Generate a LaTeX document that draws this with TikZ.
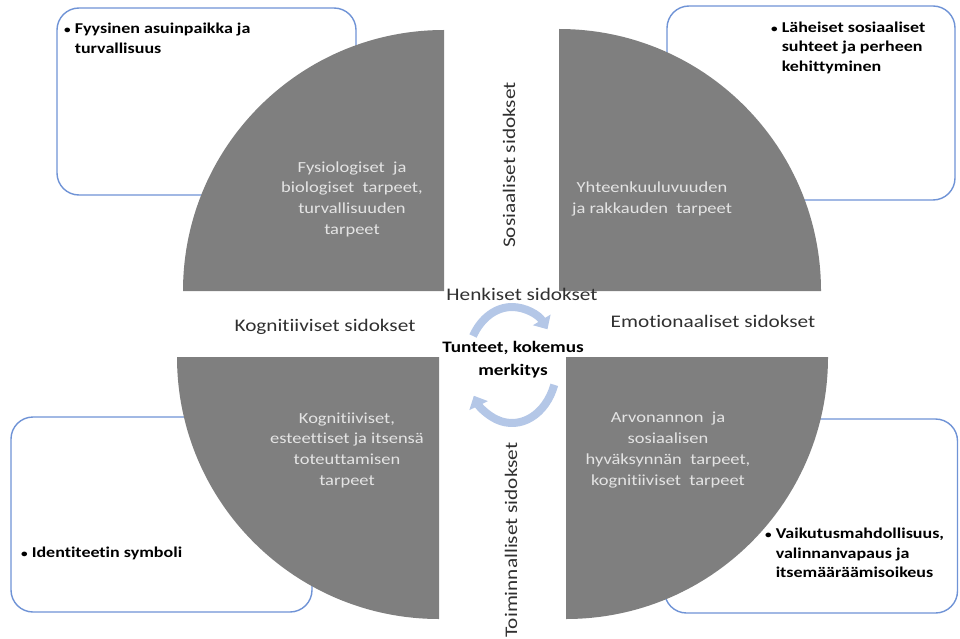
\documentclass[tikz,border=0pt]{standalone}
\usepackage{fontspec}
\setmainfont{Carlito}[FakeStretch=1.2, Ligatures=NoCommon]
\usetikzlibrary{arrows.meta}
\definecolor{quartergray}{HTML}{7F7F7F}
\definecolor{quartertext}{HTML}{E4E4E4}
\definecolor{boxblue}{HTML}{6F93D6}
\definecolor{labelgray}{HTML}{303030}
\definecolor{arrowblue}{HTML}{B4C7E7}
\tikzset{
  needbox/.style={draw=boxblue, line width=1.4pt, rounded corners=22pt, fill=white},
  quarter/.style={fill=quartergray},
  qtext/.style={text=quartertext, font=\fontsize{15.4}{20.7}\selectfont, align=center, inner sep=0pt},
  btext/.style={text=black, font=\bfseries\fontsize{15}{19.5}\selectfont, align=left, inner sep=0pt, anchor=west},
  lbl/.style={text=labelgray, font=\fontsize{17.7}{21}\selectfont, inner sep=0pt},
  cyc/.style={draw=arrowblue, line width=8pt, -{Triangle[width=20pt,length=11pt]}}
}
\newcommand{\bul}{{\fontsize{11}{11}\selectfont•}\hspace{4pt}}
\newcommand{\bulsp}{\phantom{\fontsize{11}{11}\selectfont•}\hspace{4pt}}
\begin{document}
\begin{tikzpicture}[x=1pt,y=-1pt]
\useasboundingbox (0,0) rectangle (960,639);
% outer boxes
\node[needbox, minimum width=299pt, minimum height=187pt] (tlbox) at (206.5,101.5) {};
\node[needbox, minimum width=288pt, minimum height=194pt] (trbox) at (811,103) {};
\node[needbox, minimum width=301pt, minimum height=195pt] (blbox) at (161.5,514.5) {};
\node[needbox, minimum width=293pt, minimum height=194pt] (brbox) at (811,516) {};
% quarters
\fill[quarter] (444,291) -- (183,291) arc[start angle=180, end angle=90, radius=261pt] -- cycle;
\fill[quarter] (559,291) -- (559,29) arc[start angle=90, end angle=0, radius=262pt] -- cycle;
\fill[quarter] (439,357) -- (177,357) arc[start angle=180, end angle=270, radius=262pt] -- cycle;
\fill[quarter] (566,357) -- (828,357) arc[start angle=0, end angle=-90, radius=262pt] -- cycle;
% quarter texts
\node[qtext] (q1) at (352,199) {Fysiologiset\ \ ja\\biologiset\ \ tarpeet,\\turvallisuuden\\tarpeet};
\node[qtext] (q2) at (652,199) {Yhteenkuuluvuuden\\ja rakkauden\ \ tarpeet};
\node[qtext] (q3) at (347,450) {Kognitiiviset,\\esteettiset ja itsensä\\toteuttamisen\\tarpeet};
\node[qtext] (q4) at (668,450) {Arvonannon\ \ ja\\sosiaalisen\\hyväksynnän\ \ tarpeet,\\kognitiiviset\ \ tarpeet};
% box texts
\node[btext] (t1) at (64,38.5) {\bul Fyysinen asuinpaikka ja\\\bulsp turvallisuus};
\node[btext] (t2) at (771,47.5) {\bul Läheiset sosiaaliset\\\bulsp suhteet ja perheen\\\bulsp kehittyminen};
\node[btext] (t3) at (21,553) {\bul Identiteetin symboli};
\node[btext] (t4) at (765,553) {\bul Vaikutusmahdollisuus,\\\bulsp valinnanvapaus ja\\\bulsp itsemääräämisoikeus};
% labels
\node[lbl, rotate=90] (l1) at (509,165) {Sosiaaliset sidokset};
\node[lbl] (l2) at (522,294) {Henkiset sidokset};
\node[lbl] (l3) at (325,327) {Kognitiiviset sidokset};
\node[lbl] (l4) at (713,321) {Emotionaaliset sidokset};
\node[lbl, rotate=90] (l5) at (511,540) {Toiminnalliset sidokset};
% cycle arrows
\coordinate (cc) at (512,365);
\draw[cyc] (cc) ++(150:45pt and 58pt) arc[start angle=150, end angle=38, x radius=45pt, y radius=58pt];
\draw[cyc] (cc) ++(-20:45pt and 58pt) arc[start angle=-20, end angle=-148, x radius=45pt, y radius=58pt];
\node[text=black, font=\bfseries\fontsize{16}{23}\selectfont, align=center, inner sep=0pt] (core) at (513,360) {Tunteet, kokemus\\merkitys};
\end{tikzpicture}
\end{document}
